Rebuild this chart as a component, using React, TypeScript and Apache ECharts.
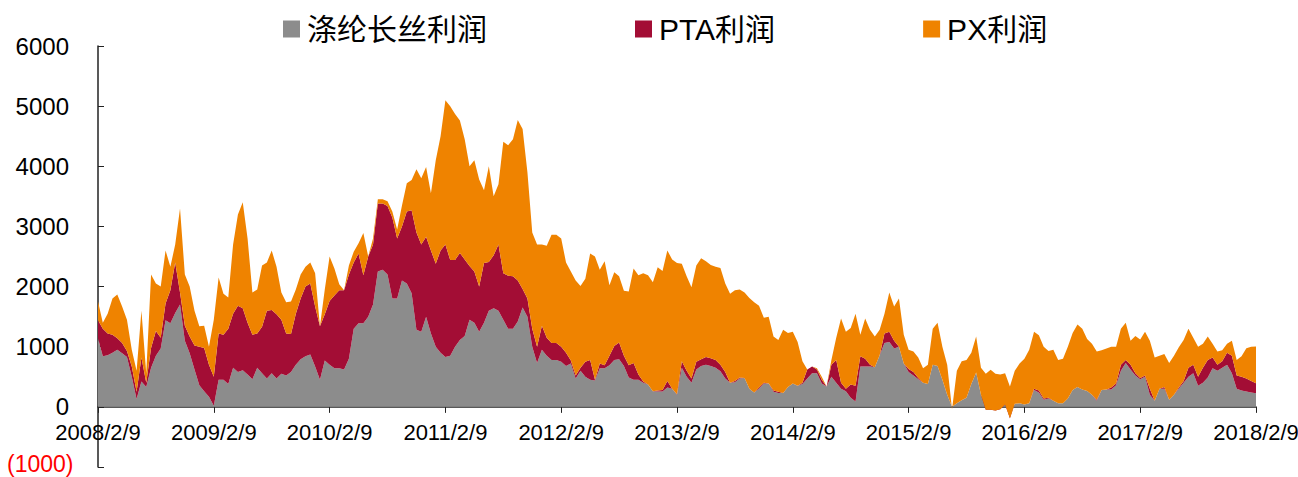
import React, { useEffect, useRef } from "react";
import * as echarts from "echarts";

// X-axis tick labels (one per year)
const yearLabels = [
  "2008/2/9", "2009/2/9", "2010/2/9", "2011/2/9", "2012/2/9", "2013/2/9",
  "2014/2/9", "2015/2/9", "2016/2/9", "2017/2/9", "2018/2/9",
];
const POINTS_PER_YEAR = 24;

// 涤纶长丝利润 (grey)
const filamentProfit = [
  1140, 840, 860, 900, 950, 890, 830, 500, 130, 420, 330, 650, 850, 970, 1440, 1390, 1560, 1700, 1100, 890,
  620, 360, 260, 170, 20, 450, 450, 380, 650, 580, 610, 540, 460, 650, 560, 470, 560, 470, 550, 520,
  580, 700, 790, 840, 870, 670, 450, 770, 700, 640, 640, 620, 800, 1300, 1390, 1390, 1500, 1700, 2250, 2280,
  2200, 1800, 1800, 2100, 2050, 1890, 1280, 1250, 1500, 1220, 1000, 900, 830, 850, 1000, 1110, 1180, 1450, 1400, 1250,
  1400, 1600, 1640, 1600, 1450, 1300, 1300, 1420, 1650, 1500, 1000, 730, 950, 850, 780, 780, 750, 680, 720, 470,
  600, 500, 450, 440, 640, 640, 690, 780, 790, 680, 490, 450, 450, 400, 370, 260, 255, 255, 320, 300,
  200, 650, 500, 400, 620, 680, 700, 680, 650, 590, 470, 400, 410, 470, 480, 300, 240, 300, 390, 390,
  250, 230, 230, 330, 390, 350, 380, 470, 560, 560, 390, 340, 500, 400, 300, 260, 150, 90, 670, 670,
  670, 660, 860, 1060, 1080, 970, 1000, 720, 580, 520, 460, 400, 380, 700, 680, 450, 200, 0, 60, 110,
  150, 380, 570, 200, 40, 50, 80, 70, 60, -150, 50, 60, 40, 60, 280, 240, 120, 140, 100, 60,
  60, 140, 280, 330, 290, 265, 200, 100, 280, 290, 290, 360, 600, 730, 620, 520, 460, 500, 200, 100,
  300, 300, 120, 200, 300, 400, 500, 560, 350, 400, 490, 640, 600, 650, 700, 560, 300, 270, 255, 240,
  227,
];

// PTA利润 (dark red)
const ptaProfit = [
  300, 460, 360, 300, 190, 170, 100, 170, 120, 400, 70, 330, 410, 180, 280, 550, 840, 200, 250, 280,
  400, 640, 720, 530, 480, 770, 750, 920, 900, 1100, 1030, 860, 740, 570, 770, 1130, 1050, 1070, 900, 700,
  630, 850, 1010, 1160, 1180, 1000, 890, 770, 1060, 1210, 1300, 1320, 1400, 1100, 1160, 800, 1000, 1000, 1130, 1100,
  1140, 1350, 1000, 900, 1200, 1380, 1620, 1450, 1330, 1380, 1380, 1700, 1870, 1590, 1440, 1450, 1270, 890, 850, 750,
  990, 810, 880, 1100, 770, 880, 870, 680, 310, 300, 300, 270, 400, 300, 280, 280, 250, 220, 50, 50,
  50, 250, 330, 10, 80, 50, 160, 230, 280, 170, 200, 280, 90, 20, 0, 0, 15, 25, 110, 0,
  10, 110, 100, 70, 130, 110, 130, 130, 130, 110, 110, 0, 20, 20, 0, 0, 0, 20, 10, 0,
  20, 20, 0, 0, 0, 0, 20, 150, 110, 60, 60, 0, 200, 380, 100, 40, 220, 260, 170, 130,
  30, 0, 0, 160, 170, 130, 0, 0, 50, 60, 20, 0, 0, 0, 0, 0, 0, 0, 0, 0,
  0, 0, 0, 0, -90, -100, -140, -110, -20, -40, 0, 0, 0, 0, 20, 30, 20, 10, 0, 0,
  0, 0, 0, 0, 0, 0, 0, 20, 0, 0, 30, 30, 100, 50, 80, 40, 20, 20, 100, 0,
  0, 30, 0, 0, 20, 30, 150, 140, 150, 250, 290, 180, 100, 110, 200, 290, 220, 230, 215, 190,
  166,
];

// PX利润 (orange)
const pxProfit = [
  310, 100, 330, 600, 730, 610, 520, 280, 350, 780, 160, 1220, 790, 850, 880, 390, 300, 1400, 850, 830,
  580, 340, 370, 300, 950, 930, 680, 520, 1150, 1520, 1760, 1400, 700, 730, 1020, 800, 990, 790, 450, 520,
  540, 400, 400, 330, 350, 550, 0, 410, 740, 450, 100, 0, 150, 180, 170, 700, 0, 100, 70, 70,
  80, 100, 150, 350, 470, 500, 1050, 1100, 1160, 950, 1720, 1900, 2400, 2560, 2430, 2200, 2000, 1660, 1850, 1780,
  1210, 1590, 980, 1000, 2190, 2170, 2280, 2670, 2660, 2100, 1600, 1700, 1350, 1530, 1800, 1800, 1800, 1500, 1480, 1580,
  1360, 1380, 1770, 2050, 1560, 1730, 1170, 1230, 1100, 1080, 1230, 1570, 1650, 1800, 1820, 1810, 2050, 1980, 2170, 2150,
  2180, 1620, 1570, 1520, 1600, 1680, 1590, 1550, 1550, 1610, 1470, 1480, 1510, 1460, 1420, 1510, 1500, 1360, 1080, 1110,
  900, 860, 1050, 900, 860, 730, 360, 0, 0, 20, 50, 0, 80, 370, 1070, 950, 940, 1200, 360, 670,
  580, 510, 420, 330, 650, 570, 800, 480, 320, 340, 340, 240, 320, 600, 720, 550, 500, -40, 540, 650,
  630, 520, 600, 450, 600, 665, 610, 580, 520, 530, 550, 660, 760, 890, 950, 920, 860, 780, 850, 720,
  740, 860, 950, 1040, 1010, 865, 850, 800, 660, 680, 680, 610, 600, 620, 400, 620, 640, 730, 800, 720,
  550, 550, 610, 650, 670, 680, 650, 450, 500, 400, 390, 230, 220, 180, 150, 250, 260, 340, 505, 570,
  609,
];

const periods = filamentProfit.map((_, i) => String(i));

const FONT = "'Liberation Sans', Arial, 'Noto Sans CJK SC', sans-serif";

// grid geometry
const GRID_TOP = 46;
const GRID_BOTTOM_Y = 467;
const Y_MIN = -1000;
const Y_MAX = 6000;
const ZERO_OFFSET = -((GRID_BOTTOM_Y - GRID_TOP) * (0 - Y_MIN)) / (Y_MAX - Y_MIN);

export default function App() {
  const ref = useRef<HTMLDivElement>(null);

  useEffect(() => {
    if (!ref.current) return;
    const chart = echarts.init(ref.current, null, { renderer: "svg" });
    const isTick = (i: number) => i % POINTS_PER_YEAR === 0;
    const mk = (name: string, data: number[], color: string) => ({
      name,
      type: "line",
      stack: "profit",
      stackStrategy: "all",
      data,
      symbol: "none",
      showSymbol: false,
      color,
      lineStyle: { width: 0, color },
      areaStyle: { color, opacity: 1 },
      emphasis: { disabled: true },
    });
    chart.setOption({
      animation: false,
      textStyle: { fontFamily: FONT },
      legend: {
        left: 283,
        top: 14,
        padding: 0,
        icon: "rect",
        itemWidth: 17,
        itemHeight: 17,
        itemGap: 148,
        textStyle: { fontSize: 30, color: "#000", fontFamily: FONT, padding: [0, 0, 0, 2] },
        data: ["涤纶长丝利润", "PTA利润", "PX利润"],
      },
      grid: {
        left: 98,
        right: 42,
        top: GRID_TOP,
        bottom: 477 - GRID_BOTTOM_Y,
        containLabel: false,
        outerBoundsMode: "none",
      },
      xAxis: {
        type: "category",
        data: periods,
        boundaryGap: false,
        position: "bottom",
        offset: ZERO_OFFSET,
        axisLine: { onZero: false, lineStyle: { color: "#222", width: 1.5 } },
        axisTick: { show: true, length: 6, interval: (i: number) => isTick(i), lineStyle: { color: "#222" } },
        axisLabel: {
          interval: (i: number) => isTick(i),
          formatter: (v: string) => yearLabels[Number(v) / POINTS_PER_YEAR] ?? "",
          fontSize: 22,
          color: "#000",
          margin: 15,
          fontFamily: FONT,
        },
        splitLine: { show: false },
      },
      yAxis: {
        type: "value",
        min: Y_MIN,
        max: Y_MAX,
        interval: 1000,
        axisLine: { show: true, lineStyle: { color: "#222", width: 1.5 } },
        axisTick: { show: true, inside: true, length: 6, lineStyle: { color: "#222" } },
        splitLine: { show: false },
        axisLabel: {
          fontSize: 24,
          margin: 29,
          fontFamily: FONT,
          color: "#000",
          formatter: (v: number) => (v < 0 ? `{neg|(${-v})}` : String(v)),
          rich: {
            neg: {
              color: "#FF0000",
              fontSize: 23,
              lineHeight: 18,
              fontFamily: FONT,
              width: 62,
              align: "left",
              padding: [0, 0, 6, 0],
            },
          },
        },
      },
      series: [
        mk("涤纶长丝利润", filamentProfit, "#8C8C8C"),
        mk("PTA利润", ptaProfit, "#A30D35"),
        mk("PX利润", pxProfit, "#EF8300"),
      ],
    });
    return () => chart.dispose();
  }, []);

  return (
    <div
      ref={ref}
      style={{ position: "fixed", left: 0, top: 0, width: 1298, height: 477, background: "#fff" }}
    />
  );
}
